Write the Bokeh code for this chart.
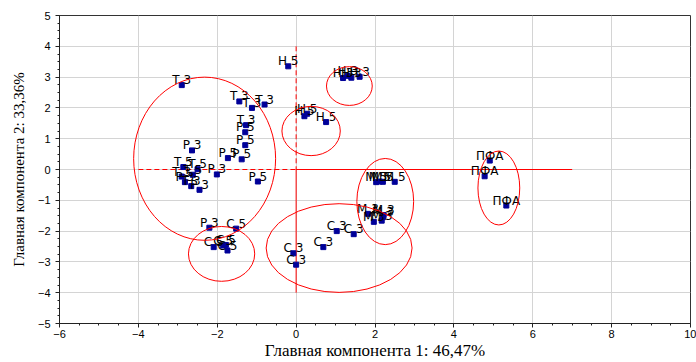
from bokeh.plotting import figure
from bokeh.models import ColumnDataSource, FixedTicker
from bokeh.embed import file_html
from bokeh.resources import INLINE

# ---- data ----
labels = (["Т 3", "Т 3", "Т 3", "Т 3", "Т 3",
           "Р 5", "Р 5", "Р 3", "Р 5", "Р 5",
           "Т 5", "Т 5", "Р 3", "Т 5", "Т 3", "Р 3", "Т 3", "Р 3", "Р 5",
           "Р 3", "С 5", "С 5", "С 5", "С 5", "С 5",
           "Н 5", "Н 5", "Н 5", "Н 5",
           "Н 3", "Н 3", "Н 3", "Н 3",
           "М 5", "М 5", "М 5", "М 5",
           "М 3", "М 3", "М 3", "М 3", "М 3",
           "С 3", "С 3", "С 3", "С 3", "С 3",
           "ПФА", "ПФА", "ПФА"])
pc1 = [-2.90, -1.44, -0.80, -1.12, -1.27,
       -1.29, -1.29, -2.64, -1.73, -1.38,
       -2.86, -2.50, -2.01, -2.62, -2.90, -2.82, -2.66, -2.45, -0.97,
       -2.20, -1.52, -2.09, -1.85, -1.78, -1.74,
       -0.20, 0.21, 0.28, 0.76,
       1.19, 1.31, 1.40, 1.61,
       2.03, 2.12, 2.20, 2.50,
       1.82, 1.97, 2.17, 2.20, 2.22,
       -0.07, 0.00, 0.69, 1.03, 1.46,
       4.91, 4.78, 5.33]
pc2 = [2.74, 2.21, 2.11, 2.00, 1.44,
       1.21, 0.79, 0.62, 0.37, 0.33,
       0.08, 0.01, -0.16, -0.17, -0.23, -0.41, -0.54, -0.66, -0.39,
       -1.89, -1.92, -2.52, -2.47, -2.45, -2.63,
       3.35, 1.73, 1.81, 1.54,
       2.97, 3.04, 2.98, 3.01,
       -0.41, -0.39, -0.40, -0.40,
       -1.44, -1.70, -1.66, -1.55, -1.48,
       -2.72, -3.09, -2.52, -2.00, -2.10,
       0.29, -0.22, -1.17]

# group ellipses: centre and full width / height (data units)
ell_x = [-2.32, -1.89, 0.38, 1.35, 2.26, 1.09, 5.14]
ell_y = [0.35, -2.74, 1.25, 2.71, -1.04, -2.55, -0.60]
ell_w = [3.60, 1.68, 1.48, 1.16, 1.44, 3.70, 1.06]
ell_h = [5.30, 1.78, 1.60, 1.26, 2.80, 2.88, 2.40]

# reference lines
dash_xs = [[-4, 0], [0, 0]]
dash_ys = [[0, 0], [4, 0]]
solid_xs = [[0, 7], [0, 0]]
solid_ys = [[0, 0], [0, -4]]

x_ticks = [-6, -4, -2, 0, 2, 4, 6, 8, 10]
y_ticks = [-5, -4, -3, -2, -1, 0, 1, 2, 3, 4, 5]

p = figure(width=696, height=362, x_range=(-6, 10), y_range=(-5, 5),
           output_backend="svg", toolbar_location=None,
           min_border_left=59, min_border_right=6, min_border_top=15,
           min_border_bottom=39)
p.background_fill_color = "white"
p.border_fill_color = "white"
p.outline_line_color = "#333333"
p.outline_line_width = 1

p.xaxis.ticker = FixedTicker(ticks=x_ticks, minor_ticks=[x / 2 for x in range(-12, 21)])
p.yaxis.ticker = FixedTicker(ticks=y_ticks, minor_ticks=[y / 4 for y in range(-20, 21)])
for ax in (p.xaxis[0], p.yaxis[0]):
    ax.major_label_text_font = "Liberation Sans"
    ax.major_label_text_font_size = "11px"
    ax.major_label_text_color = "black"
    ax.axis_line_color = "#222222"
    ax.major_tick_line_color = "#222222"
    ax.minor_tick_line_color = "#222222"
    ax.major_tick_out = 4
    ax.major_tick_in = 0
    ax.minor_tick_out = 2
    ax.minor_tick_in = 0
    ax.axis_label_text_font = "Liberation Serif"
    ax.axis_label_text_font_style = "normal"
    ax.axis_label_text_color = "black"
p.xaxis.axis_label = "Главная компонента 1: 46,47%"
p.yaxis.axis_label = "Главная компонента 2: 33,36%"
p.xaxis.axis_label_text_font_size = "17px"
p.yaxis.axis_label_text_font_size = "15px"
p.xaxis.major_label_standoff = 2
p.xaxis.axis_label_standoff = 0
p.yaxis.major_label_standoff = 5
p.yaxis.axis_label_standoff = 8

p.xgrid.grid_line_color = "#d4d4d4"
p.ygrid.grid_line_color = "#d4d4d4"
p.xgrid.grid_line_width = 1
p.ygrid.grid_line_width = 1

# reference lines
p.multi_line(dash_xs, dash_ys, line_color="#ff0000", line_width=1, line_dash="5 3")
p.multi_line(solid_xs, solid_ys, line_color="#ff0000", line_width=1)

src = ColumnDataSource(dict(x=pc1, y=pc2, t=labels))
p.scatter("x", "y", source=src, marker="square", size=5,
          fill_color="#000099", line_color="#000099")
p.text("x", "y", text="t", source=src, text_align="center",
       text_baseline="alphabetic", y_offset=-5,
       text_font={"value": "DejaVu Sans"}, text_font_size="12px",
       text_color="black")

p.ellipse(ell_x, ell_y, width=ell_w, height=ell_h, fill_alpha=0,
          line_color="#ff0000", line_width=1)

open("out.html", "w").write(file_html(p, INLINE))
